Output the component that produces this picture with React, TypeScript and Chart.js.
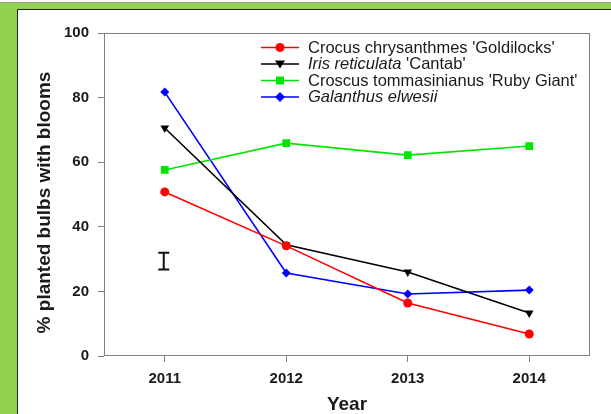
import React, { useEffect, useRef } from "react";
import { Chart, registerables } from "chart.js";

Chart.register(...registerables);

const years = ["2011", "2012", "2013", "2014"];
const yTicks = [0, 20, 40, 60, 80, 100];
const goldilocks = [50.8, 34.1, 16.4, 6.8];
const cantab = [70.6, 34.4, 26.0, 13.3];
const rubyGiant = [57.6, 65.9, 62.2, 65.0];
const elwesii = [81.7, 25.7, 19.2, 20.4];
const errorBarCategory = "2011";
const errorBarLow = 26.8;
const errorBarHigh = 32.0;
const xTitle = "Year";
const yTitle = "% planted bulbs with blooms";

const legendTexts: { t: string; i?: boolean }[][] = [
  [{ t: "Crocus chrysanthmes 'Goldilocks'" }],
  [{ t: "Iris reticulata", i: true }, { t: " 'Cantab'" }],
  [{ t: "Croscus tommasinianus 'Ruby Giant'" }],
  [{ t: "Galanthus elwesii", i: true }],
];

const FONT = 'Arial, "Liberation Sans", sans-serif';

function drawMarker(ctx: CanvasRenderingContext2D, style: string, x: number, y: number, color: string) {
  ctx.save();
  ctx.fillStyle = color;
  ctx.beginPath();
  if (style === "circle") {
    ctx.arc(x, y, 4.5, 0, Math.PI * 2);
  } else if (style === "triangleDown") {
    ctx.moveTo(x - 5, y - 3.5);
    ctx.lineTo(x + 5, y - 3.5);
    ctx.lineTo(x, y + 4.5);
    ctx.closePath();
  } else if (style === "rect") {
    ctx.rect(x - 4, y - 4, 8, 8);
  } else {
    ctx.moveTo(x, y - 5);
    ctx.lineTo(x + 5, y);
    ctx.lineTo(x, y + 5);
    ctx.lineTo(x - 5, y);
    ctx.closePath();
  }
  ctx.fill();
  ctx.restore();
}

const decorPlugin = {
  id: "decor",
  beforeDatasetsDraw(chart: any) {
    const { ctx, chartArea } = chart;
    ctx.save();
    ctx.strokeStyle = "#808080";
    ctx.lineWidth = 1;
    ctx.strokeRect(chartArea.left + 0.5, chartArea.top + 0.5, chartArea.right - chartArea.left - 1, chartArea.bottom - chartArea.top - 1);
    // axis titles
    ctx.fillStyle = "#1a1a1a";
    ctx.font = "bold 19px " + FONT;
    ctx.textAlign = "center";
    ctx.textBaseline = "middle";
    ctx.fillText(xTitle, (chartArea.left + chartArea.right) / 2, 405);
    ctx.translate(45, (chartArea.top + chartArea.bottom) / 2 + 8);
    ctx.rotate(-Math.PI / 2);
    ctx.fillText(yTitle, 0, 0);
    ctx.restore();
  },
  afterDatasetsDraw(chart: any) {
    const { ctx } = chart;
    const xs = chart.scales.x;
    const ys = chart.scales.y;
    // error bar
    const ex = xs.getPixelForValue(years.indexOf(errorBarCategory)) - 1;
    const yTop = ys.getPixelForValue(errorBarHigh);
    const yBot = ys.getPixelForValue(errorBarLow);
    ctx.save();
    ctx.strokeStyle = "#111";
    ctx.lineWidth = 2;
    ctx.beginPath();
    ctx.moveTo(ex, yTop);
    ctx.lineTo(ex, yBot);
    ctx.moveTo(ex - 5.5, yTop);
    ctx.lineTo(ex + 5.5, yTop);
    ctx.moveTo(ex - 5.5, yBot);
    ctx.lineTo(ex + 5.5, yBot);
    ctx.stroke();
    ctx.restore();

    // legend
    const rowY = [47.5, 64, 80.5, 97];
    chart.data.datasets.forEach((ds: any, i: number) => {
      const y = rowY[i];
      ctx.save();
      ctx.strokeStyle = ds.borderColor;
      ctx.lineWidth = 1.5;
      ctx.beginPath();
      ctx.moveTo(261, y);
      ctx.lineTo(299, y);
      ctx.stroke();
      ctx.restore();
      drawMarker(ctx, ds.markerKind, 280, y, ds.borderColor);
      let x = 308;
      ctx.save();
      ctx.fillStyle = "#1a1a1a";
      ctx.textBaseline = "middle";
      ctx.textAlign = "left";
      for (const seg of legendTexts[i]) {
        ctx.font = (seg.i ? "italic " : "") + "16.5px " + FONT;
        ctx.fillText(seg.t, x, y + 0.5);
        x += ctx.measureText(seg.t).width;
      }
      ctx.restore();
    });
  },
};

export default function App() {
  const ref = useRef<HTMLCanvasElement | null>(null);
  useEffect(() => {
    document.body.style.margin = "0";
    const canvas = ref.current;
    if (!canvas) return;
    const mk = (label: string, data: number[], color: string, pointStyle: any, radius: number, kind: string, rotation = 0) => ({
      label,
      data,
      borderColor: color,
      backgroundColor: color,
      borderWidth: 1.6,
      pointStyle,
      pointRadius: radius,
      pointRotation: rotation,
      pointBorderWidth: 0,
      pointBackgroundColor: color,
      tension: 0,
      markerKind: kind,
    });
    const chart = new Chart(canvas, {
      type: "line",
      data: {
        labels: years,
        datasets: [
          mk("Crocus chrysanthmes 'Goldilocks'", goldilocks, "#ff0000", "circle", 4.5, "circle"),
          mk("Iris reticulata 'Cantab'", cantab, "#000000", "triangle", 5, "triangleDown", 180),
          mk("Croscus tommasinianus 'Ruby Giant'", rubyGiant, "#00e600", "rect", 5.5, "rect"),
          mk("Galanthus elwesii", elwesii, "#0000ff", "rectRot", 4.5, "rectRot"),
        ] as any,
      },
      options: {
        animation: false,
        responsive: false,
        maintainAspectRatio: false,
        layout: { padding: { top: 33, right: 21, left: 0, bottom: 0 } },
        plugins: { legend: { display: false }, tooltip: { enabled: false } },
        scales: {
          x: {
            type: "category",
            offset: true,
            grid: { display: true, drawOnChartArea: false, drawTicks: true, tickLength: 6, color: "#808080", offset: false },
            border: { display: false },
            ticks: { color: "#1a1a1a", font: { family: FONT, size: 15, weight: "bold" }, padding: 8, maxRotation: 0 },
            title: { display: false },
            afterFit(scale: any) {
              scale.height = 58;
            },
          },
          y: {
            min: 0,
            max: 100,
            grid: { display: true, drawOnChartArea: false, drawTicks: true, tickLength: 6, color: "#808080" },
            border: { display: false },
            afterBuildTicks(scale: any) {
              scale.ticks = yTicks.map((v) => ({ value: v }));
            },
            ticks: { color: "#1a1a1a", font: { family: FONT, size: 15, weight: "bold" }, padding: 9 },
            title: { display: false },
            afterFit(scale: any) {
              scale.width = 104;
            },
          },
        },
      } as any,
      plugins: [decorPlugin as any],
    });
    return () => chart.destroy();
  }, []);
  return (
    <div style={{ position: "absolute", left: 0, top: 0, width: 611, height: 414, background: "#92d050", overflow: "hidden" }}>
      <div style={{ position: "absolute", left: 0, top: 0, width: 611, height: 2, background: "#fff", borderBottom: "1px solid #9a9a9a" }} />
      <div style={{ position: "absolute", left: 17, top: 9, width: 594, height: 405, background: "#fff", borderLeft: "1px solid #222", borderTop: "1px solid #222" }} />
      <canvas ref={ref} width={611} height={414} style={{ position: "absolute", left: 0, top: 0, width: 611, height: 414 }} />
    </div>
  );
}
